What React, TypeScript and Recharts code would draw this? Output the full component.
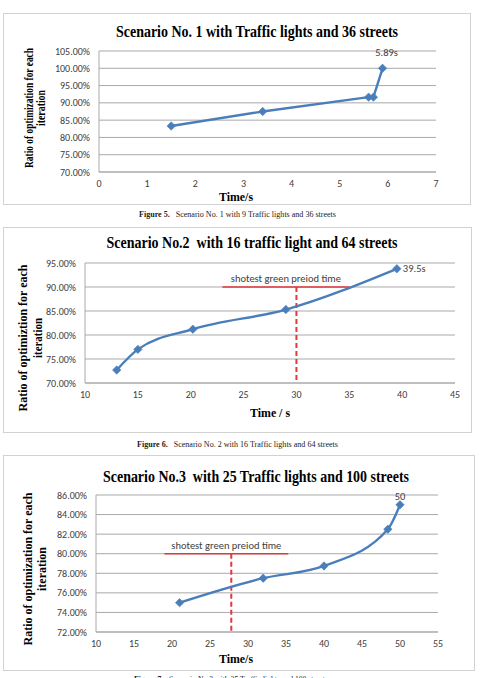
import React from 'react';
import {
  LineChart,
  Line,
  XAxis,
  YAxis,
  CartesianGrid,
  ReferenceLine,
  LabelList,
} from 'recharts';

// ---- Scenario 1: 9 traffic lights, 36 streets ----
const s1Time = [1.5, 3.4, 5.6, 5.7, 5.89];
const s1Ratio = [83.3, 87.5, 91.65, 91.65, 100];
const s1XTicks = [0, 1, 2, 3, 4, 5, 6, 7];
const s1YTicks = [70, 75, 80, 85, 90, 95, 100, 105];
const s1EndLabel = '5.89s';

// ---- Scenario 2: 16 traffic lights, 64 streets ----
const s2Time = [13, 15, 20.2, 29, 39.5];
const s2Ratio = [72.7, 77.0, 81.2, 85.3, 93.8];
const s2XTicks = [10, 15, 20, 25, 30, 35, 40, 45];
const s2YTicks = [70, 75, 80, 85, 90, 95];
const s2EndLabel = '39.5s';
const s2GreenTime = 30;
const s2GreenSpan = [23, 35];
const s2GreenLevel = 90;

// ---- Scenario 3: 25 traffic lights, 100 streets ----
const s3Time = [21, 32, 40, 48.4, 50];
const s3Ratio = [75.0, 77.5, 78.75, 82.5, 85.0];
const s3XTicks = [10, 15, 20, 25, 30, 35, 40, 45, 50, 55];
const s3YTicks = [72, 74, 76, 78, 80, 82, 84, 86];
const s3EndLabel = '50';
const s3GreenTime = 27.8;
const s3GreenSpan = [19, 35.3];
const s3GreenLevel = 80;

const greenLabel = 'shotest green preiod time';

const BLUE = '#4A7EBB';
const RED = '#E0393E';
const GRID = '#A9A9A9';
const TICK = '#404040';
const SANS = 'Carlito, Calibri, Lato, sans-serif';
const SERIF = '"Liberation Serif", "Times New Roman", serif';

const toRows = (t: number[], r: number[]) => t.map((v, i) => ({ t: v, r: r[i] }));

const Diamond = (props: any) => {
  const { cx, cy, index } = props;
  if (cx == null || cy == null) return <g key={`d-${index}`} />;
  const s = 4.2;
  return (
    <path
      key={`d-${index}`}
      d={`M${cx},${cy - s}L${cx + s},${cy}L${cx},${cy + s}L${cx - s},${cy}Z`}
      fill={BLUE}
      stroke={BLUE}
      strokeWidth={0.6}
    />
  );
};

type Plot = { left: number; right: number; top: number; bottom: number };

type ChartProps = {
  plot: Plot;
  rows: { t: number; r: number }[];
  xTicks: number[];
  yTicks: number[];
  curve: 'linear' | 'monotone';
  endLabel: string;
  endLabelAnchor: 'middle' | 'start';
  endLabelDx: number;
  endLabelDy: number;
  green?: { time: number; span: number[]; level: number; floor: number };
};

const ScenarioChart = ({
  plot,
  rows,
  xTicks,
  yTicks,
  curve,
  endLabel,
  endLabelAnchor,
  endLabelDx,
  endLabelDy,
  green,
}: ChartProps) => {
  const yAxisW = 60;
  const xAxisH = 20;
  const top = plot.top - 10;
  const height = plot.bottom + 30 - top;
  const last = rows.length - 1;
  return (
    <div style={{ position: 'absolute', left: 0, top, width: 484, height }}>
      <LineChart
        width={484}
        height={height}
        data={rows}
        margin={{ top: 10, bottom: 30 - xAxisH, left: plot.left - yAxisW, right: 484 - plot.right }}
      >
        <CartesianGrid vertical={false} stroke={GRID} strokeWidth={1} />
        <XAxis
          dataKey="t"
          type="number"
          domain={[xTicks[0], xTicks[xTicks.length - 1]]}
          ticks={xTicks}
          interval={0}
          height={xAxisH}
          tickLine={false}
          tickSize={0}
          tickMargin={8}
          axisLine={{ stroke: GRID }}
          tick={{ fill: TICK, fontSize: 10, fontFamily: SANS }}
        />
        <YAxis
          dataKey="r"
          type="number"
          domain={[yTicks[0], yTicks[yTicks.length - 1]]}
          ticks={yTicks}
          interval={0}
          width={yAxisW}
          tickLine={false}
          tickSize={0}
          tickMargin={9}
          axisLine={{ stroke: GRID }}
          tickFormatter={(v: number) => `${v.toFixed(2)}%`}
          tick={{ fill: TICK, fontSize: 10, fontFamily: SANS }}
        />
        {green && (
          <ReferenceLine
            segment={[
              { x: green.span[0], y: green.level },
              { x: green.span[1], y: green.level },
            ]}
            stroke={RED}
            strokeWidth={1.6}
            label={{
              value: greenLabel,
              position: 'top',
              offset: 5,
              fill: TICK,
              fontSize: 10.5,
              fontFamily: SANS,
            }}
          />
        )}
        {green && (
          <ReferenceLine
            segment={[
              { x: green.time, y: green.level },
              { x: green.time, y: green.floor },
            ]}
            stroke={RED}
            strokeWidth={2}
            strokeDasharray="5 3"
          />
        )}
        <Line
          type={curve}
          dataKey="r"
          stroke={BLUE}
          strokeWidth={2.4}
          dot={Diamond}
          activeDot={false}
          isAnimationActive={false}
        >
          <LabelList
            dataKey="r"
            content={(p: any) => {
              if (p.index !== last) return null;
              const x = Number(p.x);
              const y = Number(p.y);
              return (
                <text
                  x={x + endLabelDx}
                  y={y + endLabelDy}
                  textAnchor={endLabelAnchor}
                  fill={TICK}
                  fontSize={10.5}
                  fontFamily={SANS}
                >
                  {endLabel}
                </text>
              );
            }}
          />
        </Line>
      </LineChart>
    </div>
  );
};

const Frame = ({ left, top, width, height }: { left: number; top: number; width: number; height: number }) => (
  <div
    style={{
      position: 'absolute',
      left,
      top,
      width,
      height,
      boxSizing: 'border-box',
      border: '1.5px solid #D2D2D2',
    }}
  />
);

// Rotated two-line vertical axis title
const YTitle = ({ cy, x1, x2, l1, l2, len1, len2 }: any) => (
  <g fontFamily={SERIF} fontWeight="bold" fontSize={13} fill="#000">
    <text
      x={x1}
      y={cy}
      transform={`rotate(-90 ${x1} ${cy})`}
      textAnchor="middle"
      textLength={len1}
      lengthAdjust="spacingAndGlyphs"
    >
      {l1}
    </text>
    <text
      x={x2}
      y={cy}
      transform={`rotate(-90 ${x2} ${cy})`}
      textAnchor="middle"
      textLength={len2}
      lengthAdjust="spacingAndGlyphs"
    >
      {l2}
    </text>
  </g>
);

const Title = ({ x, y, text, len, size = 16 }: any) => (
  <text
    x={x}
    y={y}
    textAnchor="middle"
    fontFamily={SERIF}
    fontWeight="bold"
    fontSize={size}
    textLength={len}
    lengthAdjust="spacingAndGlyphs"
    fill="#000"
  >
    {text}
  </text>
);

const Caption = ({ x, y, num, text, len }: any) => (
  <text x={x} y={y} fontFamily={SERIF} fontSize={8} fill="#222" textLength={len} lengthAdjust="spacingAndGlyphs">
    <tspan fontWeight="bold">{num}</tspan>
    <tspan>{'\u00a0\u00a0\u00a0' + text}</tspan>
  </text>
);

export default function App() {
  return (
    <div
      style={{
        position: 'absolute',
        left: 0,
        top: 0,
        width: 484,
        height: 678,
        overflow: 'hidden',
        background: '#fff',
      }}
    >
      <Frame left={3} top={13} width={468} height={192} />
      <Frame left={3} top={227} width={469} height={206} />
      <Frame left={3} top={455} width={472} height={216} />

      <ScenarioChart
        plot={{ left: 99, right: 436, top: 51, bottom: 172 }}
        rows={toRows(s1Time, s1Ratio)}
        xTicks={s1XTicks}
        yTicks={s1YTicks}
        curve="linear"
        endLabel={s1EndLabel}
        endLabelAnchor="middle"
        endLabelDx={4}
        endLabelDy={-12}
      />
      <ScenarioChart
        plot={{ left: 85, right: 455, top: 263, bottom: 383 }}
        rows={toRows(s2Time, s2Ratio)}
        xTicks={s2XTicks}
        yTicks={s2YTicks}
        curve="monotone"
        endLabel={s2EndLabel}
        endLabelAnchor="start"
        endLabelDx={6}
        endLabelDy={3.5}
        green={{ time: s2GreenTime, span: s2GreenSpan, level: s2GreenLevel, floor: s2YTicks[0] }}
      />
      <ScenarioChart
        plot={{ left: 96, right: 438, top: 495, bottom: 632 }}
        rows={toRows(s3Time, s3Ratio)}
        xTicks={s3XTicks}
        yTicks={s3YTicks}
        curve="monotone"
        endLabel={s3EndLabel}
        endLabelAnchor="middle"
        endLabelDx={0}
        endLabelDy={-4.5}
        green={{ time: s3GreenTime, span: s3GreenSpan, level: s3GreenLevel, floor: s3YTicks[0] }}
      />

      <svg
        width={484}
        height={678}
        style={{ position: 'absolute', left: 0, top: 0, pointerEvents: 'none' }}
      >
        <Title x={257} y={37} len={282} text="Scenario No. 1 with Traffic lights and 36 streets" />
        <Title x={252} y={248} len={291} text={'Scenario No.2\u00a0 with 16 traffic light and 64 streets'} />
        <Title x={256} y={481.5} len={306} text={'Scenario No.3\u00a0 with 25 Traffic lights and 100 streets'} />

        <YTitle cy={108} x1={33} x2={44.5} len1={120} len2={36} l1="Ratio of optimization for each" l2="iteration" />
        <YTitle cy={338} x1={27} x2={42} len1={147} len2={40} l1="Ratio of optimiztion for each" l2="iteration" />
        <YTitle cy={569} x1={31.5} x2={45.5} len1={153} len2={44} l1="Ratio of optimization for each" l2="iteration" />

        <g fontFamily={SERIF} fontWeight="bold" fontSize={12} fill="#000" textAnchor="middle">
          <text x={236} y={200.5} textLength={34} lengthAdjust="spacingAndGlyphs">Time/s</text>
          <text x={270} y={417} textLength={40} lengthAdjust="spacingAndGlyphs">Time / s</text>
          <text x={236} y={662.5} textLength={34} lengthAdjust="spacingAndGlyphs">Time/s</text>
        </g>

        <Caption x={139} y={217} len={197} num="Figure 5." text="Scenario No. 1 with 9 Traffic lights and 36 streets" />
        <Caption x={137} y={447} len={201} num="Figure 6." text="Scenario No. 2 with 16 Traffic lights and 64 streets" />
        <Caption x={134} y={682} len={194} num="Figure 7." text="Scenario No.3 with 25 Traffic lights and 100 streets" />
      </svg>
    </div>
  );
}
